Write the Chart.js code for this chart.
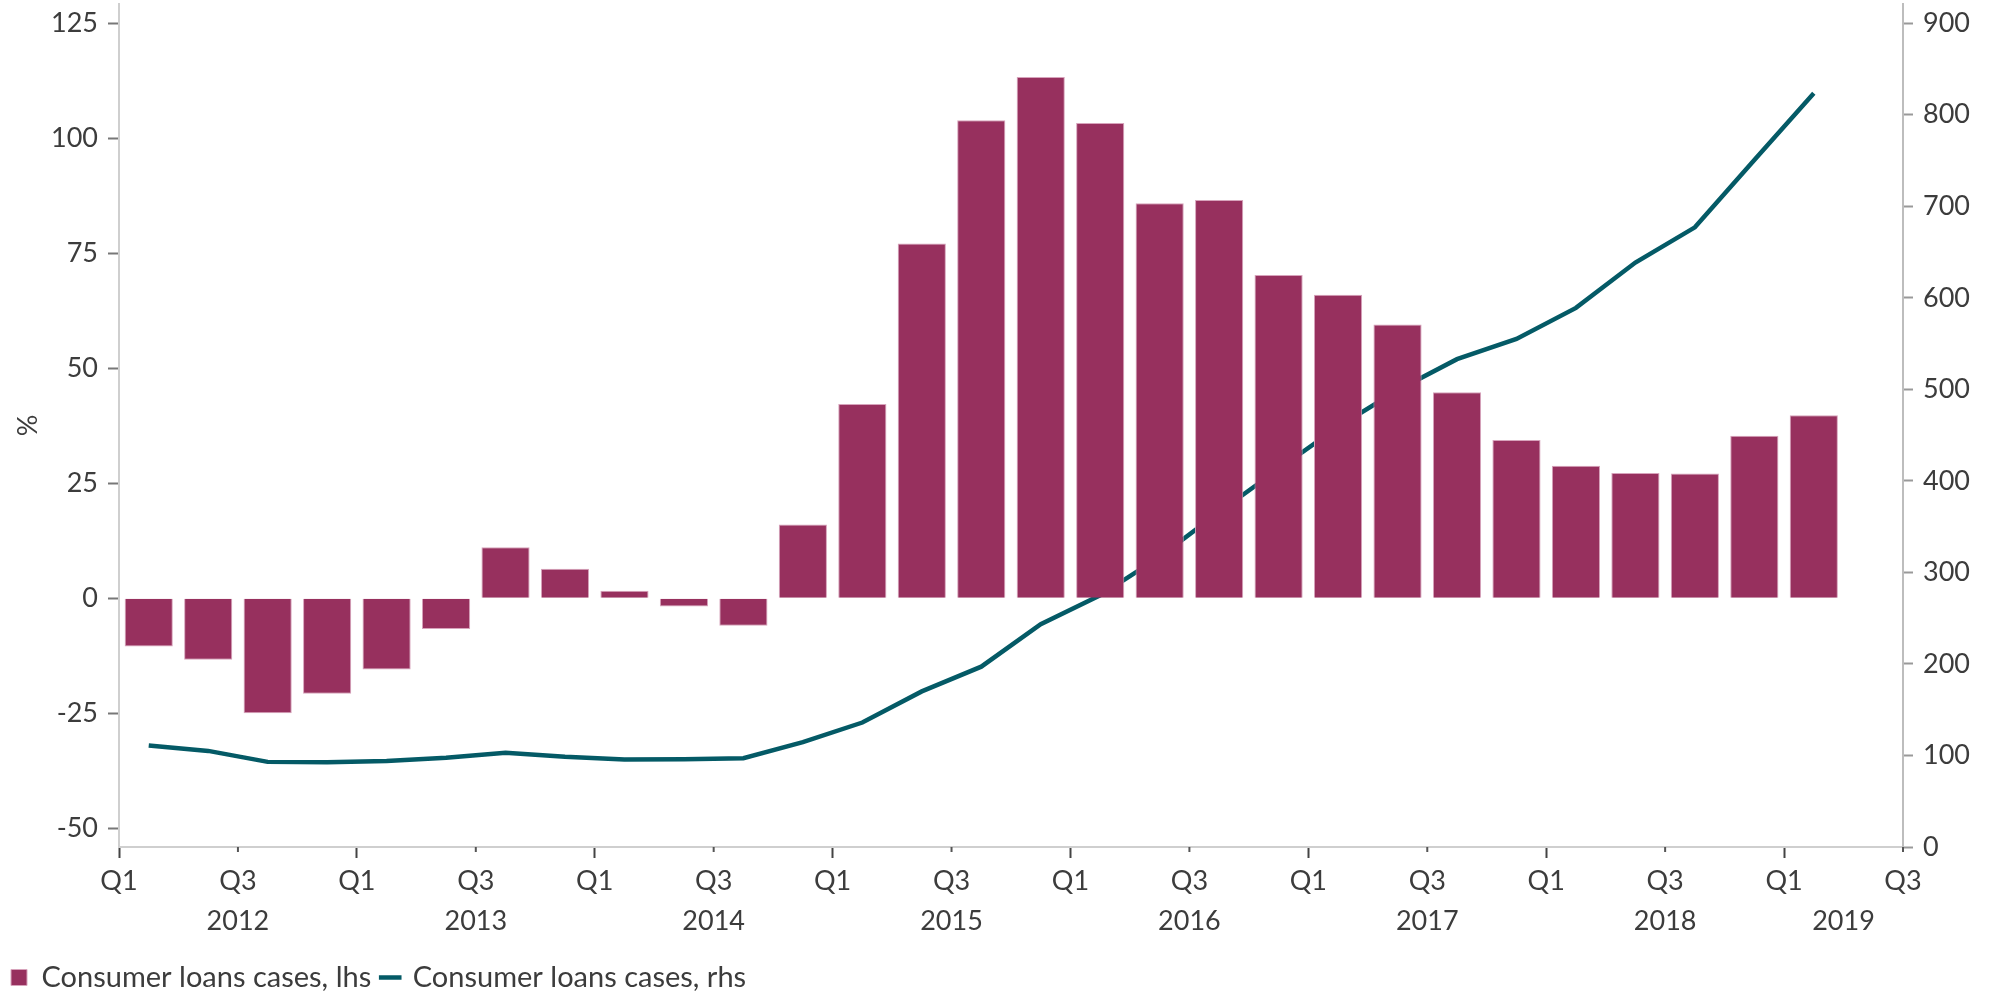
<!DOCTYPE html>
<html>
<head>
<meta charset="utf-8">
<script src="https://cdn.jsdelivr.net/npm/chart.js@4"></script>
<style>
  html, body { margin: 0; padding: 0; background: #fff; }
  #wrap { width: 1992px; height: 994px; position: relative; }
</style>
</head>
<body>
<div id="wrap"><canvas id="chart"></canvas></div>
<script>
// quarters shown as bars / line points (2012 Q1 .. 2019 Q1)
const quarters = [
  '2012 Q1','2012 Q2','2012 Q3','2012 Q4',
  '2013 Q1','2013 Q2','2013 Q3','2013 Q4',
  '2014 Q1','2014 Q2','2014 Q3','2014 Q4',
  '2015 Q1','2015 Q2','2015 Q3','2015 Q4',
  '2016 Q1','2016 Q2','2016 Q3','2016 Q4',
  '2017 Q1','2017 Q2','2017 Q3','2017 Q4',
  '2018 Q1','2018 Q2','2018 Q3','2018 Q4',
  '2019 Q1'
];
// % change, left axis
const casesPct = [
  -10.5, -13.4, -25.0, -20.8,
  -15.5, -6.7, 11.1, 6.4,
  1.6, -1.8, -6.0, 16.0,
  42.2, 77.1, 103.9, 113.3,
  103.3, 85.9, 86.6, 70.3,
  66.0, 59.5, 44.8, 34.4,
  28.8, 27.2, 27.1, 35.3,
  39.8
];
// number of cases, right axis
const casesCount = [
  111, 105, 93, 92.5,
  94, 97.5, 103, 98.5,
  95.5, 96, 97, 114.5,
  136, 170, 197, 243.5,
  275, 317, 366, 413,
  459, 499, 533, 555,
  589, 638.5, 677, 750.5,
  823.5
];
// x axis ticks (quarter steps from 2012 Q1)
const quarterTicks = [0,2,4,6,8,10,12,14,16,18,20,22,24,26,28,30];
const quarterNames = ['Q1','Q3'];
const yearTicks = [2,6,10,14,18,22,26,29];
const years = ['2012','2013','2014','2015','2016','2017','2018','2019'];
const leftTicks = [-50,-25,0,25,50,75,100,125];
const rightTicks = [0,100,200,300,400,500,600,700,800,900];

const BAR = '#97305E';
const LINE = '#045A66';
const TXT = '#3c3c3c';
const FONT = 'Lato';

// short tick marks for Q3 positions
const q3Ticks = {
  id: 'q3Ticks',
  afterDraw(chart) {
    const x = chart.scales.x;
    const ctx = chart.ctx;
    ctx.save();
    ctx.strokeStyle = '#555';
    ctx.lineWidth = 2;
    x.ticks.forEach(t => {
      if (t.value % 4 === 2) {
        const px = x.getPixelForValue(t.value);
        ctx.beginPath();
        ctx.moveTo(px, x.top);
        ctx.lineTo(px, x.top + 5);
        ctx.stroke();
      }
    });
    ctx.restore();
  }
};

// nudge the legend row down a little
const legendNudge = {
  id: 'legendNudge',
  afterLayout(chart) {
    if (chart.legend) {
      chart.legend.top += 8;
      chart.legend.bottom += 8;
    }
  }
};

new Chart(document.getElementById('chart'), {
  data: {
    datasets: [
      {
        type: 'bar',
        label: 'Consumer loans cases, lhs',
        data: casesPct.map((v, i) => ({ x: i + 0.5, y: v })),
        backgroundColor: BAR,
        borderColor: '#d7a3bb',
        borderWidth: 1,
        borderSkipped: 'start',
        barPercentage: 0.81,
        categoryPercentage: 1,
        yAxisID: 'y',
        pointStyle: 'rect'
      },
      {
        type: 'line',
        label: 'Consumer loans cases, rhs',
        data: casesCount.map((v, i) => ({ x: i + 0.5, y: v })),
        borderColor: LINE,
        backgroundColor: LINE,
        borderWidth: 4.5,
        pointRadius: 0,
        tension: 0,
        yAxisID: 'y1',
        pointStyle: 'line'
      }
    ]
  },
  plugins: [q3Ticks, legendNudge],
  options: {
    responsive: true,
    maintainAspectRatio: false,
    animation: false,
    layout: { padding: { top: 4, left: 0, right: 0, bottom: 0 } },
    plugins: {
      tooltip: { enabled: false },
      legend: {
        position: 'bottom',
        align: 'start',
        labels: {
          usePointStyle: true,
          boxWidth: 16,
          boxHeight: 16,
          padding: 11,
          color: TXT,
          font: { family: FONT, size: 29 }
        }
      }
    },
    scales: {
      x: {
        type: 'linear',
        min: 0,
        max: 30,
        offset: false,
        afterBuildTicks: s => {
          s.ticks = quarterTicks.concat([29]).sort((a, b) => a - b).map(v => ({ value: v }));
        },
        afterFit: s => {
          s.paddingLeft = 0; s.paddingRight = 0;
          const lh = s.chart.legend ? s.chart.legend.height : 60;
          s.height = 994 - 847 - lh;
        },
        border: { color: '#cfcfcf', width: 2 },
        grid: {
          offset: false,
          drawOnChartArea: false,
          drawTicks: true,
          tickLength: 11,
          tickWidth: 2,
          color: c => (c.tick && c.tick.value % 4 === 0) ? '#444' : 'rgba(0,0,0,0)'
        },
        ticks: {
          autoSkip: false,
          maxRotation: 0,
          padding: 4,
          color: TXT,
          font: { family: FONT, size: 27, lineHeight: 1.46 },
          callback: v => {
            const q = v % 2 === 0 ? quarterNames[(v / 2) % 2] : '';
            const yi = yearTicks.indexOf(v);
            return [q, yi >= 0 ? years[yi] : ''];
          }
        }
      },
      y: {
        position: 'left',
        min: -54.1,
        max: 129.2,
        afterBuildTicks: s => { s.ticks = leftTicks.map(v => ({ value: v })); },
        afterFit: s => { s.width = 119; s.paddingTop = 0; s.paddingBottom = 0; },
        border: { color: '#cfcfcf', width: 2 },
        grid: { drawOnChartArea: false, tickLength: 11, tickWidth: 2, color: '#777' },
        ticks: { padding: 10, color: TXT, font: { family: FONT, size: 27 } },
        title: {
          display: true,
          text: '%',
          color: TXT,
          padding: { top: 12, bottom: 0 },
          font: { family: FONT, size: 27 }
        }
      },
      y1: {
        position: 'right',
        min: 0,
        max: 921,
        afterBuildTicks: s => { s.ticks = rightTicks.map(v => ({ value: v })); },
        afterFit: s => { s.width = 89; s.paddingTop = 0; s.paddingBottom = 0; },
        border: { color: '#bdbdbd', width: 2 },
        grid: { drawOnChartArea: false, tickLength: 10, tickWidth: 2, color: '#999' },
        ticks: { padding: 10, color: TXT, font: { family: FONT, size: 27 } }
      }
    }
  }
});
</script>
</body>
</html>
